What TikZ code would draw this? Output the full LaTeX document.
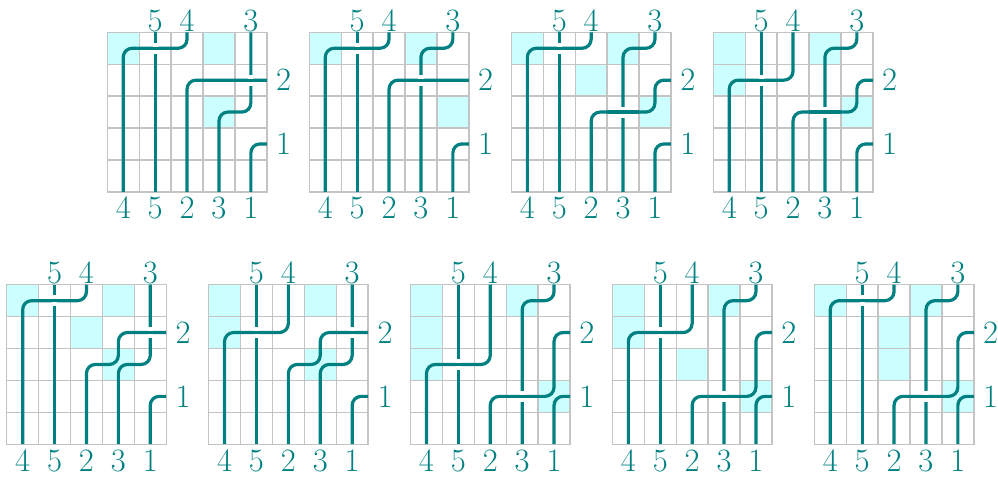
\documentclass[tikz,border=0pt]{standalone}
\usepackage{tikz}
\definecolor{pipeteal}{RGB}{0,128,128}
\definecolor{lcyan}{RGB}{204,255,255}
\definecolor{gridgray}{RGB}{196,196,196}
\tikzset{
  pipe/.style={draw=pipeteal, line width=1.6pt, rounded corners=4.5pt},
  gridln/.style={draw=gridgray, line width=0.7pt},
  blankcell/.style={fill=lcyan},
  lbl/.style={text=pipeteal, inner sep=0pt, font=\fontsize{16.3}{19}\selectfont},
}
% #1 origin, #2 cyan cells, #3 pipes, #4 crossings, #5 id
\newcommand\drawboard[5]{%
\begin{scope}[shift={#1},x=15.95pt,y=-15.95pt]
  \foreach \c/\r in {#2} \fill[blankcell] (\c-1,\r-1) rectangle (\c,\r);
  \foreach \i in {1,...,4} {\draw[gridln] (\i,0) -- (\i,5); \draw[gridln] (0,\i) -- (5,\i);}
  \draw[gridln] (0,0) rectangle (5,5);
  \draw[pipe] (1.5,5) -- (1.5,0);
  \draw[pipe] (4.5,5) -- (4.5,3.5) -- (5,3.5);
  #3
  \foreach \c/\r in {#4} {%
    \fill[white] (\c-0.5,\r-0.5) ++(-1.3pt,-2.75pt) rectangle ++(2.6pt,5.5pt);
    \draw[pipe] (\c-1,\r-0.5) -- (\c,\r-0.5);}
  \node[lbl,anchor=base,yshift=0.5pt] (#5t5) at (1.5,0) {5};
  \node[lbl,anchor=base,yshift=0.5pt] (#5t4) at (2.5,0) {4};
  \node[lbl,anchor=base,yshift=0.5pt] (#5t3) at (4.5,0) {3};
  \node[lbl,anchor=west,xshift=4.5pt] (#5r2) at (5,1.5) {2};
  \node[lbl,anchor=west,xshift=4.5pt] (#5r1) at (5,3.5) {1};
  \node[lbl,anchor=base,yshift=-13.5pt] (#5b1) at (0.5,5) {4};
  \node[lbl,anchor=base,yshift=-13.5pt] (#5b2) at (1.5,5) {5};
  \node[lbl,anchor=base,yshift=-13.5pt] (#5b3) at (2.5,5) {2};
  \node[lbl,anchor=base,yshift=-13.5pt] (#5b4) at (3.5,5) {3};
  \node[lbl,anchor=base,yshift=-13.5pt] (#5b5) at (4.5,5) {1};
\end{scope}}
\begin{document}
\begin{tikzpicture}[x=0.5pt,y=-0.5pt]
\useasboundingbox (0,0) rectangle (998,477);
% top row
\drawboard{(107.3,32.3)}{1/1,4/1,4/3}{%
  \draw[pipe] (0.5,5)--(0.5,0.5)--(2.5,0.5)--(2.5,0);
  \draw[pipe] (2.5,5)--(2.5,1.5)--(5,1.5);
  \draw[pipe] (3.5,5)--(3.5,2.5)--(4.5,2.5)--(4.5,0);}{2/1,5/2}{ga}
\drawboard{(309.3,32.3)}{1/1,4/1,5/3}{%
  \draw[pipe] (0.5,5)--(0.5,0.5)--(2.5,0.5)--(2.5,0);
  \draw[pipe] (2.5,5)--(2.5,1.5)--(5,1.5);
  \draw[pipe] (3.5,5)--(3.5,0.5)--(4.5,0.5)--(4.5,0);}{2/1,4/2}{gb}
\drawboard{(511.4,32.3)}{1/1,4/1,3/2,5/3}{%
  \draw[pipe] (0.5,5)--(0.5,0.5)--(2.5,0.5)--(2.5,0);
  \draw[pipe] (2.5,5)--(2.5,2.5)--(4.5,2.5)--(4.5,1.5)--(5,1.5);
  \draw[pipe] (3.5,5)--(3.5,0.5)--(4.5,0.5)--(4.5,0);}{2/1,4/3}{gc}
\drawboard{(713.3,32.3)}{1/1,4/1,1/2,5/3}{%
  \draw[pipe] (0.5,5)--(0.5,1.5)--(2.5,1.5)--(2.5,0);
  \draw[pipe] (2.5,5)--(2.5,2.5)--(4.5,2.5)--(4.5,1.5)--(5,1.5);
  \draw[pipe] (3.5,5)--(3.5,0.5)--(4.5,0.5)--(4.5,0);}{2/2,4/3}{gd}
% bottom row
\drawboard{(6.7,284.7)}{1/1,4/1,3/2,4/3}{%
  \draw[pipe] (0.5,5)--(0.5,0.5)--(2.5,0.5)--(2.5,0);
  \draw[pipe] (2.5,5)--(2.5,2.5)--(3.5,2.5)--(3.5,1.5)--(5,1.5);
  \draw[pipe] (3.5,5)--(3.5,2.5)--(4.5,2.5)--(4.5,0);}{2/1,5/2}{ge}
\drawboard{(208.6,284.7)}{1/1,4/1,1/2,4/3}{%
  \draw[pipe] (0.5,5)--(0.5,1.5)--(2.5,1.5)--(2.5,0);
  \draw[pipe] (2.5,5)--(2.5,2.5)--(3.5,2.5)--(3.5,1.5)--(5,1.5);
  \draw[pipe] (3.5,5)--(3.5,2.5)--(4.5,2.5)--(4.5,0);}{2/2,5/2}{gf}
\drawboard{(410.5,284.7)}{1/1,4/1,1/2,1/3,5/4}{%
  \draw[pipe] (0.5,5)--(0.5,2.5)--(2.5,2.5)--(2.5,0);
  \draw[pipe] (2.5,5)--(2.5,3.5)--(4.5,3.5)--(4.5,1.5)--(5,1.5);
  \draw[pipe] (3.5,5)--(3.5,0.5)--(4.5,0.5)--(4.5,0);}{2/3,4/4}{gg}
\drawboard{(612.4,284.7)}{1/1,4/1,1/2,3/3,5/4}{%
  \draw[pipe] (0.5,5)--(0.5,1.5)--(2.5,1.5)--(2.5,0);
  \draw[pipe] (2.5,5)--(2.5,3.5)--(4.5,3.5)--(4.5,1.5)--(5,1.5);
  \draw[pipe] (3.5,5)--(3.5,0.5)--(4.5,0.5)--(4.5,0);}{2/2,4/4}{gh}
\drawboard{(814.3,284.7)}{1/1,4/1,3/2,3/3,5/4}{%
  \draw[pipe] (0.5,5)--(0.5,0.5)--(2.5,0.5)--(2.5,0);
  \draw[pipe] (2.5,5)--(2.5,3.5)--(4.5,3.5)--(4.5,1.5)--(5,1.5);
  \draw[pipe] (3.5,5)--(3.5,0.5)--(4.5,0.5)--(4.5,0);}{2/1,4/4}{gi}
\end{tikzpicture}
\end{document}
